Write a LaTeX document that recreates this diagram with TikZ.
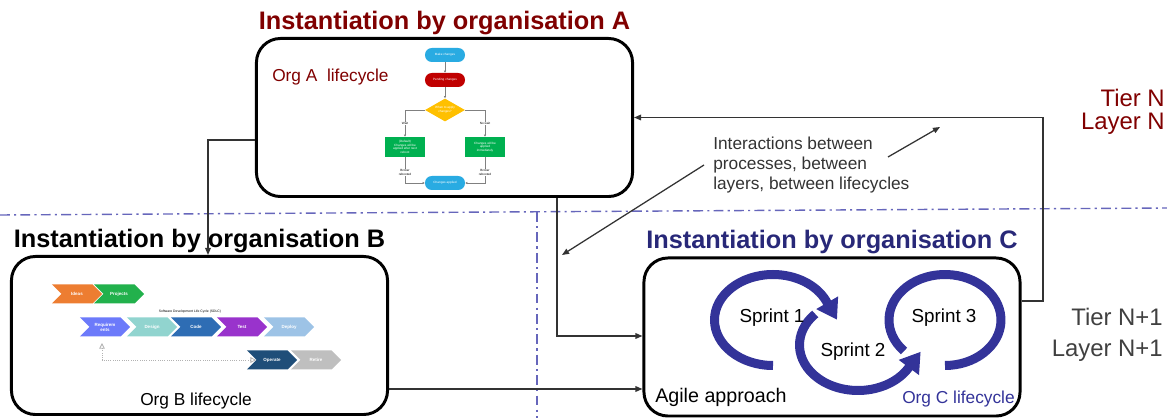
\documentclass[tikz,border=0pt]{standalone}
\usepackage{fontspec}
\setmainfont{Liberation Sans}
\usetikzlibrary{positioning,arrows.meta,shapes.geometric,shapes.symbols}

\definecolor{orgred}{RGB}{128,0,0}
\definecolor{orgnavy}{RGB}{40,40,120}
\definecolor{sprintblue}{RGB}{51,51,153}
\definecolor{tiergray}{RGB}{64,64,64}
\definecolor{dashblue}{RGB}{102,102,187}
\definecolor{flowblue}{RGB}{41,171,226}
\definecolor{flowred}{RGB}{192,0,0}
\definecolor{flowyellow}{RGB}{255,192,0}
\definecolor{flowgreen}{RGB}{0,176,80}
\definecolor{ideaorange}{RGB}{237,125,49}
\definecolor{projgreen}{RGB}{34,177,76}
\definecolor{reqviolet}{RGB}{108,122,250}
\definecolor{designteal}{RGB}{145,212,207}
\definecolor{codeblue}{RGB}{46,109,180}
\definecolor{testpurple}{RGB}{153,51,204}
\definecolor{deployblue}{RGB}{157,195,230}
\definecolor{operatenavy}{RGB}{31,78,121}
\definecolor{retiregray}{RGB}{191,191,191}

\begin{document}
\begin{tikzpicture}[x=0.025cm, y=-0.025cm,
    lifebox/.style={draw=black, line width=2.1pt, rounded corners=0.6cm, minimum width=9.4cm, minimum height=3.95cm},
    boxtitle/.style={font=\fontsize{18}{20}\selectfont\bfseries, inner sep=0pt},
    lifecycle/.style={font=\fontsize{12.3}{14}\selectfont, inner sep=0pt},
    link/.style={draw=black!80, line width=0.9pt, -{Triangle[length=5pt,width=4pt]}},
    tierline/.style={dashblue, line width=1pt, dash pattern=on 7pt off 3pt on 1.5pt off 3pt},
    sprint/.style={sprintblue, line width=6.4pt},
    sprinttext/.style={font=\fontsize{13.4}{15}\selectfont, inner sep=0pt},
    flow/.style={text=white, font=\fontsize{2.2}{2.6}\selectfont, align=center, inner sep=0.5pt},
    pill/.style={flow, rounded corners=0.17cm, minimum width=1cm, minimum height=0.35cm},
    flowline/.style={draw=gray, line width=0.5pt, -{Triangle[length=1.5pt,width=1.5pt]}},
    flowlbl/.style={font=\fontsize{2.2}{2.6}\selectfont, align=center, fill=white, inner sep=0.3pt},
    chev/.style={signal, signal to=east, signal from=west, minimum width=1.25cm, minimum height=0.475cm,
        inner sep=0.5pt, text=white, font=\fontsize{3.2}{3.6}\selectfont\bfseries, align=center},
    looparrow/.style={draw=gray!60, densely dotted, line width=0.6pt,
        {Triangle[open,length=4pt,width=4pt]}-{Triangle[open,length=4pt,width=4pt]}},
    note/.style={font=\fontsize{12.3}{14.2}\selectfont, text=black!80, align=left, inner ysep=0pt, inner xsep=6.4pt},
    tier/.style={font=\fontsize{17}{16.5}\selectfont, align=right, inner sep=0pt}]

    \useasboundingbox (0,0) rectangle (1167,418);

    % tier / layer separators
    \draw[tierline] (0,215) -- (1167,208);
    \draw[tierline] (537,212) -- (537,418);

    % the three instantiations
    \node[lifebox] (boxA) at (444.5,117.5) {};
    \node[lifebox] (boxB) at (199.5,335.5) {};
    \node[lifebox] (boxC) at (832,337) {};
    \node[boxtitle, text=orgred, above=1.5pt of boxA] (titleA) {Instantiation by organisation A};
    \node[boxtitle, text=black, above=1.5pt of boxB] (titleB) {Instantiation by organisation B};
    \node[boxtitle, text=orgnavy, above=1.5pt of boxC] (titleC) {Instantiation by organisation C};

    % org A: change flow
    \node[lifecycle, text=orgred, anchor=west] (lcA) at (272,77) {Org A~ lifecycle};
    \node[pill, fill=flowblue] (mk) at (445,55) {Make changes};
    \node[pill, fill=flowred] (pend) at (445,80) {Pending changes};
    \node[flow, diamond, aspect=1.7, fill=flowyellow, minimum width=1cm, minimum height=0.575cm] (when) at (445,110) {When to apply\\changes?};
    \node[flow, fill=flowgreen, minimum width=1cm, minimum height=0.5cm] (later) at (405,147) {(Default)\\Changes will be\\applied after next\\reboot};
    \node[flow, fill=flowgreen, minimum width=1cm, minimum height=0.5cm] (now) at (485,147) {Changes will be\\applied\\immediately};
    \node[pill, fill=flowblue] (done) at (445,183) {Changes applied};
    \draw[flowline] (mk) -- (pend);
    \draw[flowline] (pend) -- (when);
    \draw[flowline] (when.west) -| node[flowlbl, pos=0.75] {Wait} (later.north);
    \draw[flowline] (when.east) -| node[flowlbl, pos=0.75] {No wait} (now.north);
    \draw[flowline] (later.south) |- node[flowlbl, pos=0.3] {Broker\\rebooted} (done.west);
    \draw[flowline] (now.south) |- node[flowlbl, pos=0.3] {Broker\\rebooted} (done.east);

    % org B: SDLC chevrons
    \node[chev, fill=ideaorange] (ideas) at (77,294) {Ideas};
    \node[chev, fill=projgreen] (proj) at (119,294) {Projects};
    \node[font=\fontsize{2.4}{3}\selectfont, inner sep=0pt] (sdlc) at (190,312) {Software Development Life Cycle (SDLC)};
    \node[chev, fill=reqviolet] (req) at (105,327) {Requirem\\ents};
    \node[chev, fill=designteal] (dsg) at (152,327) {Design};
    \node[chev, fill=codeblue] (code) at (196,327) {Code};
    \node[chev, fill=testpurple] (test) at (242,327) {Test};
    \node[chev, fill=deployblue] (depl) at (289,327) {Deploy};
    \node[chev, fill=operatenavy] (opr) at (272,360) {Operate};
    \node[chev, fill=retiregray] (ret) at (316,360) {Retire};
    \coordinate (loopend) at (102,343);
    \draw[looparrow] (opr.west) -| (loopend);
    \node[lifecycle] (lcB) at (196,401) {Org B lifecycle};

    % org C: sprints
    \coordinate (s1) at (773,320);
    \coordinate (s2) at (858,345);
    \coordinate (s3) at (945,320);
    \draw[sprint, -{Triangle[length=14pt,width=17pt]}] (s1) ++(90:58.5 and 45.5)
        arc[start angle=90, end angle=335, x radius=58.5, y radius=45.5] -- ++(11,19);
    \draw[sprint, -{Triangle[length=14pt,width=17pt]}] (s2) ++(223:58.5 and 45.5)
        arc[start angle=223, end angle=30, x radius=58.5, y radius=45.5] -- ++(12,-16);
    \draw[sprint] (s3) ++(137:56 and 45.5)
        arc[start angle=137, end angle=450, x radius=56, y radius=45.5];
    \node[sprinttext] (sp1) at (772,318) {Sprint 1};
    \node[sprinttext] (sp2) at (853,352) {Sprint 2};
    \node[sprinttext] (sp3) at (944,318) {Sprint 3};
    \node[lifecycle, font=\fontsize{14}{16}\selectfont, anchor=west] (agile) at (655,397) {Agile approach};
    \node[lifecycle, text=sprintblue, anchor=east] (lcC) at (1015,399) {Org C lifecycle};

    % interactions
    \draw[link] (boxA.west |- 0,140) -| (boxB.north -| 208,0);
    \draw[link] (boxA.south -| 557,0) |- (boxC.west |- 0,336);
    \draw[link] (boxB.east |- 0,389) -- (boxC.west |- 0,389);
    \draw[link] (boxC.east |- 0,301) -- (1043,301) |- (boxA.east);

    \node[note, anchor=west] (note) at (704,165) {Interactions between\\processes, between\\layers, between lifecycles};
    \coordinate (downtip) at (562,255);
    \coordinate (uptail) at (888,157);
    \coordinate (uptip) at (940,127);
    \draw[link] (note.west) -- (downtip);
    \draw[link] (uptail) -- (uptip);

    % tiers
    \node[tier, text=orgred, anchor=east] (tierN) at (1165,112) {Tier N\\Layer N};
    \node[tier, text=tiergray, anchor=east, font=\fontsize{17}{22}\selectfont] (tierN1) at (1163,335) {Tier N+1\\Layer N+1};
\end{tikzpicture}
\end{document}
